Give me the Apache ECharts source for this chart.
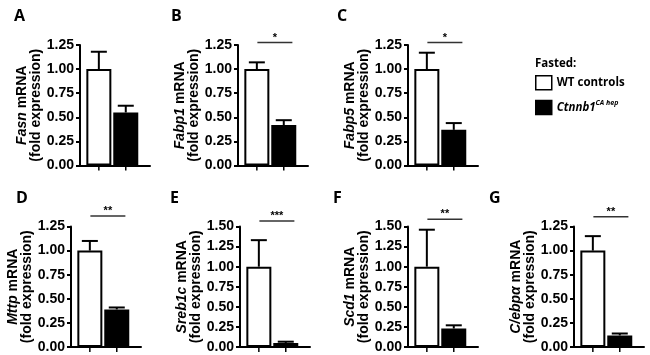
<!DOCTYPE html>
<html>
<head>
<meta charset="utf-8">
<script src="https://cdn.jsdelivr.net/npm/echarts@6/dist/echarts.min.js"></script>
<style>
html,body{margin:0;padding:0;background:#fff;}
#chart{width:650px;height:355px;}
</style>
</head>
<body>
<div id="chart"></div>
<script>
// ---- data ----
const panelLetters = ['A', 'B', 'C', 'D', 'E', 'F', 'G'];
const genes = ['Fasn', 'Fabp1', 'Fabp5', 'Mttp', 'Sreb1c', 'Scd1', 'C/ebpα'];
const groups = ['WT controls', 'Ctnnb1'];
const wtMean = [1.00, 1.00, 1.00, 1.00, 1.00, 1.00, 1.00];
const wtErr  = [0.18, 0.07, 0.17, 0.10, 0.33, 0.46, 0.15];
const koMean = [0.55, 0.42, 0.37, 0.39, 0.05, 0.23, 0.12];
const koErr  = [0.07, 0.05, 0.07, 0.02, 0.016, 0.04, 0.02];
const yMaxes = [1.25, 1.25, 1.25, 1.25, 1.50, 1.50, 1.25];
const yStep = 0.25;
const sigStars = ['', '*', '*', '**', '***', '**', '**'];
const sigLevel = [null, 1.275, 1.275, 1.36, 1.57, 1.59, 1.35];
const legendTitle = 'Fasted:';

// ---- layout ----
const gridLeft = [80, 238, 408, 71, 240, 408, 574];
const gridTop = [45, 45, 45, 226.5, 226.5, 226.5, 226.5];
const gridH = 120.5, gridW = 70;
const letterPos = [[14, 8], [171, 8], [337, 8], [16, 190], [170, 190], [333, 190], [489, 190]];
const FONT = '"Liberation Sans", Arial, sans-serif';
const FONT2 = '"Open Sans", sans-serif';

const option = {
  backgroundColor: '#fff',
  animation: false,
  title: [],
  legend: {
    orient: 'vertical', left: 535, top: 75, padding: 0,
    itemWidth: 16, itemHeight: 14, itemGap: 9, icon: 'rect', selectedMode: false,
    data: [
      {name: groups[0], itemStyle: {color: '#fff', borderColor: '#000', borderWidth: 1.5}},
      {name: groups[1], itemStyle: {color: '#000', borderColor: '#000', borderWidth: 1.5}}
    ],
    formatter: n => n === groups[1] ? '{i|Ctnnb1}{s|CA hep}' : n,
    textStyle: {
      fontFamily: FONT2, fontWeight: 'bold', fontSize: 11.5, color: '#000',
      rich: {
        i: {fontFamily: FONT2, fontWeight: 'bold', fontStyle: 'italic', fontSize: 11.5, color: '#000', lineHeight: 16},
        s: {fontFamily: FONT2, fontWeight: 'bold', fontStyle: 'italic', fontSize: 7, color: '#000', verticalAlign: 'top', lineHeight: 16}
      }
    }
  },
  grid: [], xAxis: [], yAxis: [], series: []
};

option.title.push({
  text: legendTitle, left: 535, top: 58, padding: 0,
  textStyle: {fontFamily: FONT2, fontWeight: 'bold', fontSize: 11.5, color: '#000'}
});

panelLetters.forEach((L, i) => {
  option.title.push({
    text: L, left: letterPos[i][0], top: letterPos[i][1], padding: 0,
    textStyle: {fontFamily: FONT2, fontWeight: 'bold', fontSize: 16, color: '#000'}
  });
  option.grid.push({left: gridLeft[i], top: gridTop[i], width: gridW, height: gridH, containLabel: false});
  option.xAxis.push({
    gridIndex: i, type: 'value', min: -0.7, max: 1.9,
    axisLine: {show: true, onZero: false, lineStyle: {color: '#000', width: 2}},
    axisTick: {show: false}, axisLabel: {show: false}, splitLine: {show: false}
  });
  option.yAxis.push({
    gridIndex: i, type: 'value', min: 0, max: yMaxes[i], interval: yStep,
    axisLine: {show: true, onZero: false, lineStyle: {color: '#000', width: 2}},
    axisTick: {show: true, length: 4, lineStyle: {color: '#000', width: 2}},
    axisLabel: {formatter: v => v.toFixed(2), fontFamily: FONT, fontWeight: 'bold', fontSize: 14, color: '#000', margin: 6},
    splitLine: {show: false},
    name: '{i|' + genes[i] + '} mRNA\n(fold expression)',
    nameLocation: 'middle', nameRotate: 90, nameGap: 36,
    nameTextStyle: {
      fontFamily: FONT, fontWeight: 'bold', fontSize: 14, color: '#000', lineHeight: 14,
      rich: {i: {fontFamily: FONT, fontWeight: 'bold', fontStyle: 'italic', fontSize: 14, color: '#000', lineHeight: 14}}
    }
  });
  option.series.push({
    type: 'bar', name: groups[0], xAxisIndex: i, yAxisIndex: i, barWidth: 25, barGap: '-100%',
    data: [[0, wtMean[i]]],
    itemStyle: {color: '#fff', borderColor: '#000', borderWidth: 2}
  });
  option.series.push({
    type: 'bar', name: groups[1], xAxisIndex: i, yAxisIndex: i, barWidth: 25, barGap: '-100%',
    data: [[1, koMean[i]]],
    itemStyle: {color: '#000', borderColor: '#000', borderWidth: 2}
  });
  option.series.push({
    type: 'custom', xAxisIndex: i, yAxisIndex: i, z: 5, clip: false,
    data: [[0, wtMean[i], wtErr[i]], [1, koMean[i], koErr[i]]],
    encode: {x: 0, y: 1},
    renderItem: (params, api) => {
      const x = api.value(0), m = api.value(1), e = api.value(2);
      const p0 = api.coord([x, m]), p1 = api.coord([x, m + e]), pb = api.coord([x, 0]);
      return {type: 'group', children: [
        {type: 'line', shape: {x1: p0[0], y1: p0[1], x2: p1[0], y2: p1[1]}, style: {stroke: '#000', lineWidth: 2}},
        {type: 'line', shape: {x1: p1[0] - 8, y1: p1[1], x2: p1[0] + 8, y2: p1[1]}, style: {stroke: '#000', lineWidth: 2}},
        {type: 'line', shape: {x1: pb[0], y1: pb[1], x2: pb[0], y2: pb[1] + 5}, style: {stroke: '#000', lineWidth: 1.5}}
      ]};
    }
  });
  if (sigLevel[i] !== null) {
    option.series.push({
      type: 'custom', xAxisIndex: i, yAxisIndex: i, z: 5, clip: false,
      data: [[0, sigLevel[i]]],
      encode: {x: 0, y: 1},
      renderItem: (params, api) => {
        const lv = api.value(1);
        const a = api.coord([0.02, lv]), b = api.coord([1.32, lv]);
        return {type: 'group', children: [
          {type: 'line', shape: {x1: a[0], y1: a[1], x2: b[0], y2: b[1]}, style: {stroke: '#333', lineWidth: 1.5}},
          {type: 'text', x: (a[0] + b[0]) / 2, y: a[1] - 5,
           style: {text: sigStars[i], fill: '#000', font: 'bold 11px ' + FONT, textAlign: 'center', textVerticalAlign: 'middle'}}
        ]};
      }
    });
  }
});

const chart = echarts.init(document.getElementById('chart'), null, {renderer: 'canvas'});
chart.setOption(option);
</script>
</body>
</html>
